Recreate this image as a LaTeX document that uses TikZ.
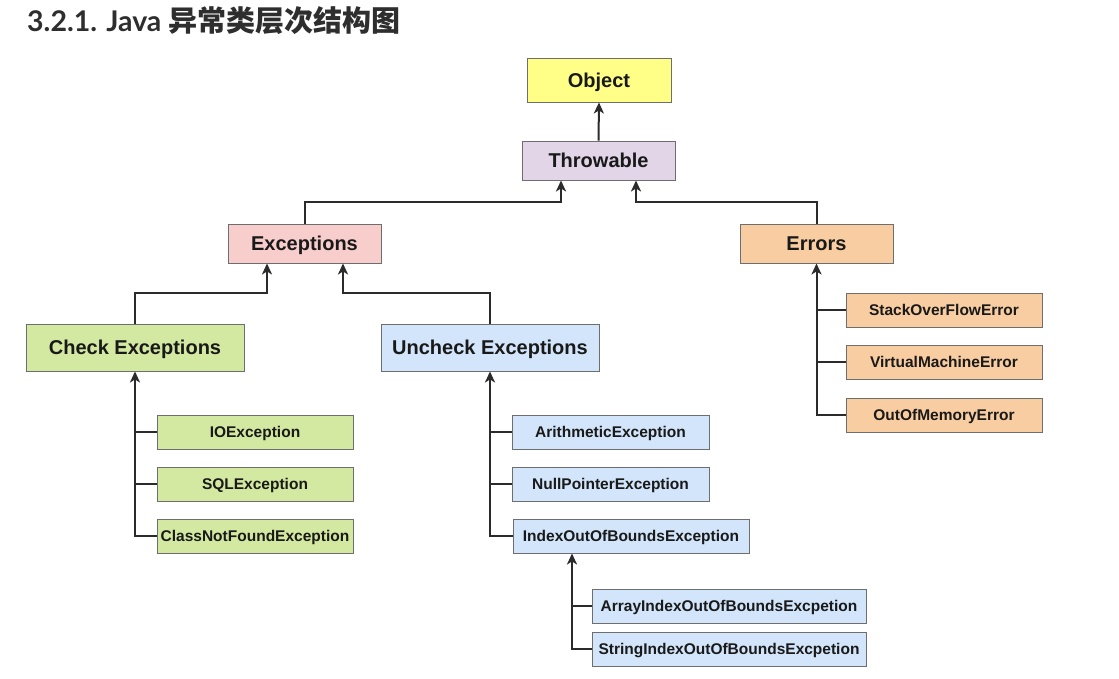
\documentclass[tikz,border=0pt]{standalone}
\usepackage{fontspec}
\setmainfont{Liberation Sans}
\newfontfamily\titlefont{Lato}
\newfontfamily\cjkfont{Noto Sans CJK SC}
\usetikzlibrary{arrows.meta}
\definecolor{bordergray}{HTML}{6E6E6E}
\definecolor{linecol}{HTML}{2B2B2B}
\definecolor{cyellow}{HTML}{FFFF88}
\definecolor{cpurple}{HTML}{E1D5E7}
\definecolor{cpink}{HTML}{F8CECC}
\definecolor{cpeach}{HTML}{F9CDA2}
\definecolor{cgreen}{HTML}{D3E8A0}
\definecolor{cblue}{HTML}{D2E5FA}
\tikzset{
  boxbase/.style={draw=bordergray, line width=0.9pt, inner sep=0pt, align=center, text=black!90, text depth=0pt},
  bigbox/.style={boxbase, font=\fontsize{20}{24}\selectfont\bfseries, text height=14.4pt},
  smallbox/.style={boxbase, font=\fontsize{15.5}{18}\selectfont\bfseries, text height=11.2pt},
  conn/.style={draw=linecol, line width=2pt, -{Stealth[length=11pt,width=10pt,inset=3pt]}},
  plainconn/.style={draw=linecol, line width=2pt},
}
\begin{document}
\begin{tikzpicture}[x=1pt,y=-1pt]
\useasboundingbox[fill=white] (0,0) rectangle (1119,678);
\node[anchor=base west, text=black!82, inner sep=0pt] (title) at (27,31)
  {\fontsize{28.5}{34}\selectfont\titlefont\bfseries 3.2.1. Java \cjkfont\fontsize{29}{34}\selectfont\bfseries 异常类层次结构图};

\node[bigbox, fill=cyellow, minimum width=144pt, minimum height=44pt] (obj) at (599,80) {Object};
\node[bigbox, fill=cpurple, minimum width=153pt, minimum height=39pt] (thr) at (598.5,160.5) {Throwable};
\node[bigbox, fill=cpink, minimum width=153pt, minimum height=39pt] (exc) at (304.5,243.5) {Exceptions};
\node[bigbox, fill=cpeach, minimum width=153pt, minimum height=39pt] (err) at (816.5,243.5) {Errors};
\node[bigbox, fill=cgreen, minimum width=218pt, minimum height=47pt] (chk) at (135,347.5) {Check Exceptions};
\node[bigbox, fill=cblue, minimum width=218pt, minimum height=47pt] (unc) at (490,347.5) {Uncheck Exceptions};

\node[smallbox, fill=cgreen, minimum width=196pt, minimum height=34pt] (io) at (255,432) {IOException};
\node[smallbox, fill=cgreen, minimum width=196pt, minimum height=34pt] (sql) at (255,484) {SQLException};
\node[smallbox, fill=cgreen, minimum width=196pt, minimum height=34pt] (cnf) at (255,536) {ClassNotFoundException};

\node[smallbox, fill=cblue, minimum width=197pt, minimum height=34pt] (ari) at (610.5,432) {ArithmeticException};
\node[smallbox, fill=cblue, minimum width=197pt, minimum height=34pt] (npe) at (610.5,484) {NullPointerException};
\node[smallbox, fill=cblue, minimum width=236pt, minimum height=34pt] (ioob) at (631,536) {IndexOutOfBoundsException};
\node[smallbox, fill=cblue, minimum width=274pt, minimum height=34pt] (aioob) at (729,606) {ArrayIndexOutOfBoundsExcpetion};
\node[smallbox, fill=cblue, minimum width=274pt, minimum height=34pt] (sioob) at (729,649) {StringIndexOutOfBoundsExcpetion};

\node[smallbox, fill=cpeach, minimum width=196pt, minimum height=34pt] (sof) at (944,310) {StackOverFlowError};
\node[smallbox, fill=cpeach, minimum width=196pt, minimum height=34pt] (vme) at (944,362) {VirtualMachineError};
\node[smallbox, fill=cpeach, minimum width=196pt, minimum height=34pt] (oom) at (944,415) {OutOfMemoryError};

% top levels
\draw[conn] (thr.north) -- (obj.south);
\draw[conn] (exc.north) |- (561,202) -- (thr.south -| 561,0);
\draw[conn] (err.north) |- (636,202) -- (thr.south -| 636,0);
\draw[conn] (chk.north) |- (267,293) -- (exc.south -| 267,0);
\draw[conn] (unc.north) |- (343,293) -- (exc.south -| 343,0);

% check children
\draw[conn] (cnf.west) -| (chk.south);
\draw[plainconn] (io.west) -- (io.west -| chk.south);
\draw[plainconn] (sql.west) -- (sql.west -| chk.south);

% uncheck children
\draw[conn] (ioob.west) -| (unc.south);
\draw[plainconn] (ari.west) -- (ari.west -| unc.south);
\draw[plainconn] (npe.west) -- (npe.west -| unc.south);

% index children
\draw[conn] (sioob.west) -| (ioob.south -| 572,0);
\draw[plainconn] (aioob.west) -- (aioob.west -| 572,0);

% errors children
\draw[conn] (oom.west) -| (err.south);
\draw[plainconn] (sof.west) -- (sof.west -| err.south);
\draw[plainconn] (vme.west) -- (vme.west -| err.south);
\end{tikzpicture}
\end{document}
